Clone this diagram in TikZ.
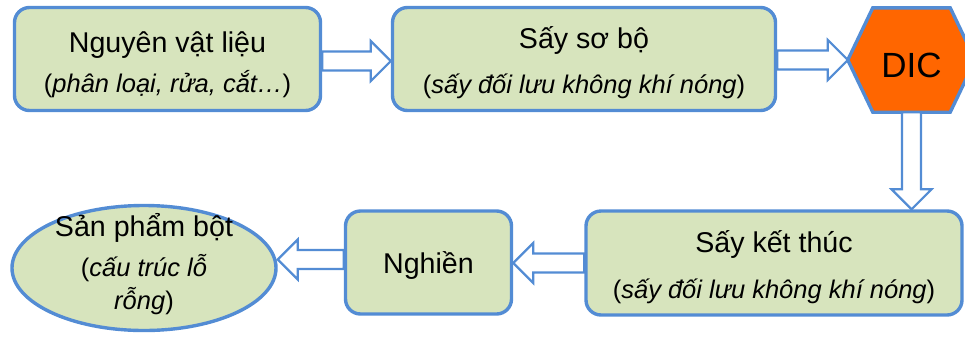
\documentclass[tikz,border=0pt]{standalone}
\usepackage{fontspec}
\setmainfont{Liberation Sans}
\usetikzlibrary{calc,backgrounds,shapes.geometric}

\definecolor{edgeblue}{RGB}{83,140,212}
\definecolor{boxfill}{RGB}{215,228,189}
\definecolor{dicorange}{RGB}{255,102,0}

% smaller font for the bracketed second lines
\newcommand\subfont{\fontsize{25.5}{40}\selectfont}
% a line of fixed height #1 whose glyphs do not change the spacing
\newcommand\fixedline[2]{\rule{0pt}{#1}\smash{#2}}

% hollow block arrows: #1 = start of shaft, #2 = tip
\newcommand\blockright[2]{%
  \draw[blockarrow] ($(#1)+(0,-9.5)$) -- ($(#2)+(-20,-9.5)$) -- ($(#2)+(-20,-20)$)
    -- (#2) -- ($(#2)+(-20,20)$) -- ($(#2)+(-20,9.5)$) -- ($(#1)+(0,9.5)$) -- cycle;}
\newcommand\blockleft[2]{%
  \draw[blockarrow] ($(#1)+(0,-9.5)$) -- ($(#2)+(20,-9.5)$) -- ($(#2)+(20,-20)$)
    -- (#2) -- ($(#2)+(20,20)$) -- ($(#2)+(20,9.5)$) -- ($(#1)+(0,9.5)$) -- cycle;}
\newcommand\blockdown[2]{%
  \draw[blockarrow] ($(#1)+(-9.5,0)$) -- ($(#2)+(-9.5,-20)$) -- ($(#2)+(-20,-20)$)
    -- (#2) -- ($(#2)+(20,-20)$) -- ($(#2)+(9.5,-20)$) -- ($(#1)+(9.5,0)$) -- cycle;}

\tikzset{
  stepbox/.style={draw=edgeblue, line width=3.4pt, fill=boxfill, rounded corners=15pt,
    align=center, inner sep=0pt, font=\fontsize{28.6}{40}\selectfont},
  endoval/.style={ellipse, draw=edgeblue, line width=3.4pt, fill=boxfill,
    align=center, inner sep=0pt, font=\fontsize{25.5}{33}\selectfont},
  hexbox/.style={inner sep=0pt, font=\fontsize{35}{40}\selectfont,
    minimum width=127pt, minimum height=104pt},
  hexfill/.style={draw=edgeblue, line width=3.4pt, fill=dicorange, line join=miter},
  blockarrow/.style={draw=edgeblue, line width=2.2pt, fill=white, line join=miter},
}

\begin{document}
\begin{tikzpicture}[x=1pt, y=-1pt]
\useasboundingbox (0,0) rectangle (965,338);

% top row
\node[stepbox, minimum width=306pt, minimum height=103pt] (b1) at (167.5,59)
  {\fixedline{26pt}{Nguyên vật liệu}\\\smash{\subfont(\textit{phân loại, rửa, cắt…})}};
\node[stepbox, minimum width=383pt, minimum height=103pt] (b2) at (584,59)
  {\fixedline{23pt}{Sấy sơ bộ}\\[5pt]\smash{\subfont(\textit{sấy đối lưu không khí nóng})}};
\node[hexbox] (dic) at (911.5,60) {\fixedline{34pt}{DIC}};
\begin{scope}[on background layer]
  \draw[hexfill] (dic.west) -- ($(dic.north west)+(25,0)$) -- ($(dic.north east)+(-25,0)$)
    -- (dic.east) -- ($(dic.south east)+(-25,0)$) -- ($(dic.south west)+(25,0)$) -- cycle;
\end{scope}

% bottom row
\node[stepbox, minimum width=376pt, minimum height=104pt] (b3) at (774,263)
  {\fixedline{24pt}{Sấy kết thúc}\\[6pt]\smash{\subfont(\textit{sấy đối lưu không khí nóng})}};
\node[stepbox, minimum width=166pt, minimum height=103pt] (ng) at (428.5,262.5)
  {\fixedline{21pt}{Nghiền}};
\node[endoval, minimum width=264pt, minimum height=125pt] (prod) at (144,268)
  {\fixedline{10pt}{\fontsize{28.6}{33}\selectfont Sản phẩm bột}\\[7pt]\smash{(\textit{cấu trúc lỗ}}\\\smash{\textit{rỗng})}};

% flow arrows
\coordinate (a1s) at ($(b1.east)+(0,2)$);
\coordinate (a1t) at (b2.west |- a1s);
\blockright{a1s}{a1t}
\coordinate (a2s) at (b2.east |- dic.west);
\blockright{a2s}{dic.west}
\coordinate (a3t) at (dic.south |- b3.north);
\blockdown{dic.south}{a3t}
\coordinate (a4t) at (ng.east |- b3.west);
\blockleft{b3.west}{a4t}
\coordinate (a5s) at ($(ng.west)+(0,-3)$);
\coordinate (a5t) at (prod.east |- a5s);
\blockleft{a5s}{a5t}
\end{tikzpicture}
\end{document}
